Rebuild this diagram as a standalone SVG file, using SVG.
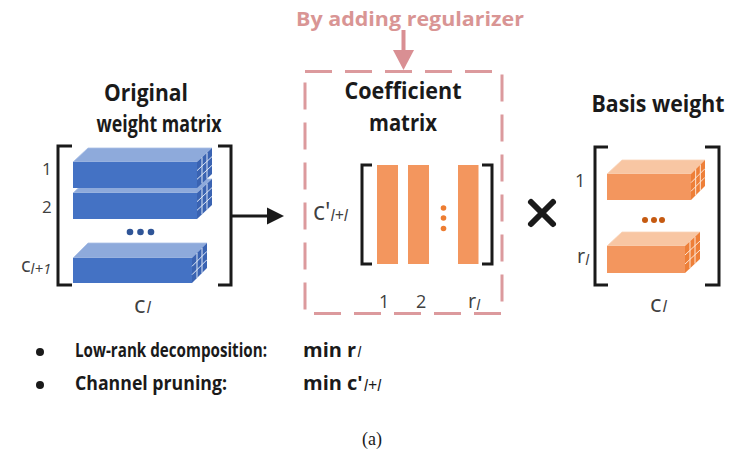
<svg xmlns="http://www.w3.org/2000/svg" xmlns:xlink="http://www.w3.org/1999/xlink" width="746" height="462" viewBox="0 0 746 462">
<style>
.title{font-family:"Open Sans","Liberation Sans",sans-serif;font-weight:bold;font-size:23px;fill:#1a1a1a}
.lbl{font-family:"Open Sans","Liberation Sans",sans-serif;font-size:17px;fill:#404040}
.sub{font-style:italic}
.bul{font-family:"Open Sans","Liberation Sans",sans-serif;font-weight:bold;font-size:20px;fill:#1a1a1a}
.brk{fill:none;stroke:#1a1a1a;stroke-width:3}
.bfront{fill:#4472c4}
.btop{fill:#8eaadb;stroke:#a9bfe6;stroke-width:0.8}
.ofront{fill:#f3965e}
.otop{fill:#f8c6a3;stroke:#f9d3b8;stroke-width:0.8}
.gl{stroke:#dfe8f7;stroke-width:1;vector-effect:non-scaling-stroke}
.glo{stroke:#fde6d6;stroke-width:1;vector-effect:non-scaling-stroke}
</style>
<defs>
<g id="sideB"><rect x="0" y="0" width="1" height="1" fill="#3a63b2"/><line class="gl" x1="0.333" y1="0" x2="0.333" y2="1"/><line class="gl" x1="0.667" y1="0" x2="0.667" y2="1"/><line class="gl" x1="0" y1="0.333" x2="1" y2="0.333"/><line class="gl" x1="0" y1="0.667" x2="1" y2="0.667"/></g>
<g id="sideO"><rect x="0" y="0" width="1" height="1" fill="#ee7f38"/><line class="glo" x1="0.333" y1="0" x2="0.333" y2="1"/><line class="glo" x1="0.667" y1="0" x2="0.667" y2="1"/><line class="glo" x1="0" y1="0.333" x2="1" y2="0.333"/><line class="glo" x1="0" y1="0.667" x2="1" y2="0.667"/></g>
</defs>
<rect width="746" height="462" fill="#ffffff"/>

<!-- Original weight matrix -->
<g id="original">
<text class="title" x="146" y="101" text-anchor="middle" textLength="84" lengthAdjust="spacingAndGlyphs">Original</text>
<text class="title" x="159" y="132" text-anchor="middle" textLength="125" lengthAdjust="spacingAndGlyphs">weight matrix</text>
<path class="brk" d="M72,146 H58 V285 H72"/>
<path class="brk" d="M218,146 H231 V285 H218"/>
<polygon class="btop" points="73,193 88,179 212,179 197,193"/>
<rect class="bfront" x="73" y="193" width="124" height="26"/>
<use xlink:href="#sideB" transform="matrix(15,-14,0,26,197,193)"/>
<polygon class="btop" points="73,162 88,148 212,148 197,162"/>
<rect class="bfront" x="73" y="162" width="124" height="26"/>
<use xlink:href="#sideB" transform="matrix(15,-14,0,26,197,162)"/>
<circle cx="130" cy="232" r="3.3" fill="#2f5597"/>
<circle cx="140.5" cy="232" r="3.3" fill="#2f5597"/>
<circle cx="151" cy="232" r="3.3" fill="#2f5597"/>
<polygon class="btop" points="73,258 88,243 207,243 192,258"/>
<rect class="bfront" x="73" y="258" width="119" height="25"/>
<use xlink:href="#sideB" transform="matrix(15,-15,0,25,192,258)"/>
<text class="lbl" x="42" y="175">1</text>
<text class="lbl" x="42" y="213">2</text>
<text class="lbl" x="21" y="272" style="font-size:20px">c<tspan class="sub" style="font-size:15px" dy="2">l+1</tspan></text>
<text class="lbl" x="134" y="313" style="font-size:24px">c<tspan class="sub" style="font-size:17px" dx="1">l</tspan></text>
</g>

<!-- Coefficient matrix -->
<g id="coefficient">
<rect x="305" y="71.5" width="197" height="242" fill="none" stroke="#dc9a9d" stroke-width="3" stroke-dasharray="27 13"/>
<text class="title" x="403" y="99" text-anchor="middle" textLength="117" lengthAdjust="spacingAndGlyphs">Coefficient</text>
<text class="title" x="403" y="131" text-anchor="middle" textLength="68" lengthAdjust="spacingAndGlyphs">matrix</text>
<path class="brk" d="M372,165 H362 V264 H372"/>
<path class="brk" d="M482,165 H492 V264 H482"/>
<rect x="377" y="165" width="21" height="99" fill="#f3965e"/>
<rect x="408" y="165" width="21" height="99" fill="#f3965e"/>
<rect x="458" y="165" width="20.5" height="99" fill="#f3965e"/>
<circle cx="443.5" cy="208" r="2.8" fill="#ed7d31"/>
<circle cx="443.5" cy="218" r="2.8" fill="#ed7d31"/>
<circle cx="443.5" cy="228.5" r="2.8" fill="#ed7d31"/>
<text class="lbl" x="313" y="220" style="font-size:25px">c'<tspan class="sub" style="font-size:16px" dy="1">l+l</tspan></text>
<text class="lbl" x="379" y="308" style="font-size:18px">1</text>
<text class="lbl" x="416" y="308" style="font-size:18px">2</text>
<text class="lbl" x="468" y="308" style="font-size:20px">r<tspan class="sub" style="font-size:15px" dy="2">l</tspan></text>
</g>

<g id="regularizer">
<text x="410" y="26" text-anchor="middle" font-family="'Open Sans','Liberation Sans',sans-serif" font-weight="bold" font-size="20" fill="#d99594" textLength="228" lengthAdjust="spacingAndGlyphs">By adding regularizer</text>
</g>

<!-- Basis weight -->
<g id="basis">
<text class="title" x="658" y="112" text-anchor="middle" textLength="133" lengthAdjust="spacingAndGlyphs">Basis weight</text>
<path class="brk" d="M608,147 H595 V285 H608"/>
<path class="brk" d="M705,147 H719 V285 H705"/>
<polygon class="otop" points="607,174 622,160 705,160 691,174"/>
<rect class="ofront" x="607" y="174" width="84" height="26"/>
<use xlink:href="#sideO" transform="matrix(14,-14,0,26,691,174)"/>
<circle cx="645" cy="220" r="3" fill="#c55a11"/>
<circle cx="654" cy="220" r="3" fill="#c55a11"/>
<circle cx="662" cy="220" r="3" fill="#c55a11"/>
<polygon class="otop" points="607,246 622,232 700,232 685,246"/>
<rect class="ofront" x="607" y="246" width="78" height="27"/>
<use xlink:href="#sideO" transform="matrix(15,-14,0,27,685,246)"/>
<text class="lbl" x="575" y="187" style="font-size:18px">1</text>
<text class="lbl" x="577" y="263" style="font-size:20px">r<tspan class="sub" style="font-size:15px" dy="2">l</tspan></text>
<text class="lbl" x="650" y="312" style="font-size:24px">c<tspan class="sub" style="font-size:17px" dx="1">l</tspan></text>
</g>

<g id="connectors">
<path d="M231,216 H267" stroke="#1a1a1a" stroke-width="3"/>
<path d="M267,207.5 L284,216 L267,224.5 z" fill="#1a1a1a"/>
<line x1="403.5" y1="30" x2="403.5" y2="52" stroke="#d98f93" stroke-width="4"/>
<path d="M393,50 L414,50 L403.5,70 z" fill="#d98f93"/>
<path d="M531,202 L553,224 M553,202 L531,224" stroke="#1a1a1a" stroke-width="6" stroke-linecap="round"/>
</g>

<g id="bullets">
<circle cx="40" cy="352" r="4" fill="#1a1a1a"/>
<circle cx="40" cy="385" r="4" fill="#1a1a1a"/>
<text class="bul" x="75" y="357" textLength="192" lengthAdjust="spacingAndGlyphs">Low-rank decomposition:</text>
<text class="bul" x="303" y="357">min r<tspan class="sub" style="font-weight:normal;font-size:15px" dx="1">l</tspan></text>
<text class="bul" x="75" y="390" textLength="152" lengthAdjust="spacingAndGlyphs">Channel pruning:</text>
<text class="bul" x="303" y="390">min c'<tspan class="sub" style="font-weight:normal;font-size:16px" dx="1" dy="1">l+l</tspan></text>
</g>

<text x="372" y="445" text-anchor="middle" font-family="'Liberation Serif',serif" font-size="18" fill="#1a1a1a">(a)</text>
</svg>
